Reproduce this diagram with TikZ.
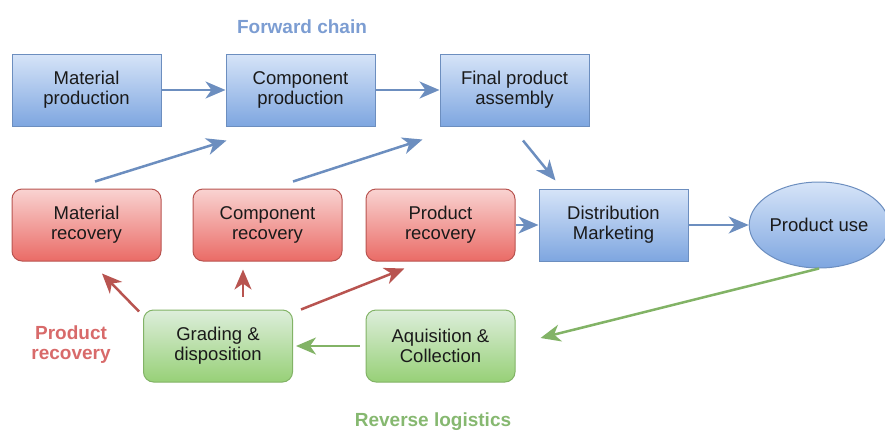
\documentclass[tikz,border=0pt]{standalone}
\usepackage{fontspec}
\setmainfont{Liberation Sans}
\usetikzlibrary{arrows.meta,calc,shapes.geometric}

\definecolor{blueline}{HTML}{6C8EBF}
\definecolor{bluetop}{HTML}{D6E4F8}
\definecolor{bluebot}{HTML}{7EA6E0}
\definecolor{redline}{HTML}{B85450}
\definecolor{redtop}{HTML}{F9D3D1}
\definecolor{redbot}{HTML}{EA6B66}
\definecolor{greenline}{HTML}{82B366}
\definecolor{greentop}{HTML}{DDEEDB}
\definecolor{greenbot}{HTML}{97D077}
\definecolor{txt}{HTML}{1A1A1A}
\definecolor{fwdcap}{HTML}{7C9DD2}
\definecolor{reccap}{HTML}{D86A6A}
\definecolor{revcap}{HTML}{86B870}

\tikzset{
  box/.style={draw, line width=1pt, minimum width=149pt, minimum height=72pt,
    align=center, text=txt, font=\fontsize{18.5}{20}\selectfont, inner sep=2pt},
  fwd/.style={box, draw=blueline, top color=bluetop, bottom color=bluebot},
  rec/.style={box, draw=redline, top color=redtop, bottom color=redbot, rounded corners=10pt},
  rev/.style={box, draw=greenline, top color=greentop, bottom color=greenbot, rounded corners=10pt},
  usebox/.style={ellipse, draw=blueline, line width=1pt, top color=bluetop, bottom color=bluebot,
    minimum width=130pt, minimum height=86pt, inner sep=0pt, text=txt,
    font=\fontsize{18.5}{20}\selectfont},
  link/.style={line width=2.5pt, -{Stealth[length=20pt,width=17pt,inset=6pt]}},
  bluelink/.style={link, draw=blueline, color=blueline},
  redlink/.style={link, draw=redline, color=redline},
  greenlink/.style={link, draw=greenline, color=greenline},
  caption/.style={font=\bfseries\fontsize{19}{20}\selectfont, align=center}
}

\begin{document}
\begin{tikzpicture}[x=1pt, y=-1pt]
  \useasboundingbox (0,0) rectangle (885,434);

  % forward chain
  \node[fwd] (mp)  at (86.5,90)  {Material\\production};
  \node[fwd] (cp)  at (300.5,90) {Component\\production};
  \node[fwd] (fpa) at (514.5,90) {Final product\\assembly};
  \node[fwd] (dist) at (613.5,225) {Distribution\\Marketing};
  \node[usebox] (pu) at (819,225) {Product use};

  % recovery options
  \node[rec] (mr) at (86.5,225)  {Material\\recovery};
  \node[rec] (cr) at (267.5,225) {Component\\recovery};
  \node[rec] (pr) at (440.5,225) {Product\\recovery};

  % reverse logistics
  \node[rev] (gr) at (218,346)   {Grading \&\\disposition};
  \node[rev] (aq) at (440.5,346) {Aquisition \&\\Collection};

  % group captions
  \node[caption, text=fwdcap] (fc) at (302,27) {Forward chain};
  \node[caption, text=reccap] (prc) at (71,345) {Product\\recovery};
  \node[caption, text=revcap] (rl) at (433,422) {Reverse logistics};

  % forward flow
  \draw[bluelink] (mp.east) -- (cp.west);
  \draw[bluelink] (cp.east) -- (fpa.west);
  \draw[bluelink] ($(mr.north)+(8.5,-7)$) -- ($(cp.south west)+(1,14)$);
  \draw[bluelink] ($(cr.north)+(25.5,-7)$) -- ($(fpa.south west)+(-17,13)$);
  \draw[bluelink] ($(fpa.south)+(8.5,14)$) -- ($(dist.north west)+(17,-8)$);
  \draw[bluelink] (pr.east) -- (dist.west);
  \draw[bluelink] (dist.east) -- (pu.west);

  % return flow
  \draw[greenlink] (pu.south) -- ($(aq.east)+(25,-8)$);
  \draw[greenlink, shorten <=6pt, shorten >=3pt] (aq.west) -- (gr.east);

  % recovery routes
  \draw[redlink] ($(gr.north west)+(-4,2)$) -- ($(mr.south)+(15.5,12)$);
  \draw[redlink] ($(gr.north)+(25,-13)$) -- ($(cr.south)+(-24.5,8)$);
  \draw[redlink] ($(gr.north east)+(8,0)$) -- ($(pr.south west)+(39,7)$);
\end{tikzpicture}
\end{document}
